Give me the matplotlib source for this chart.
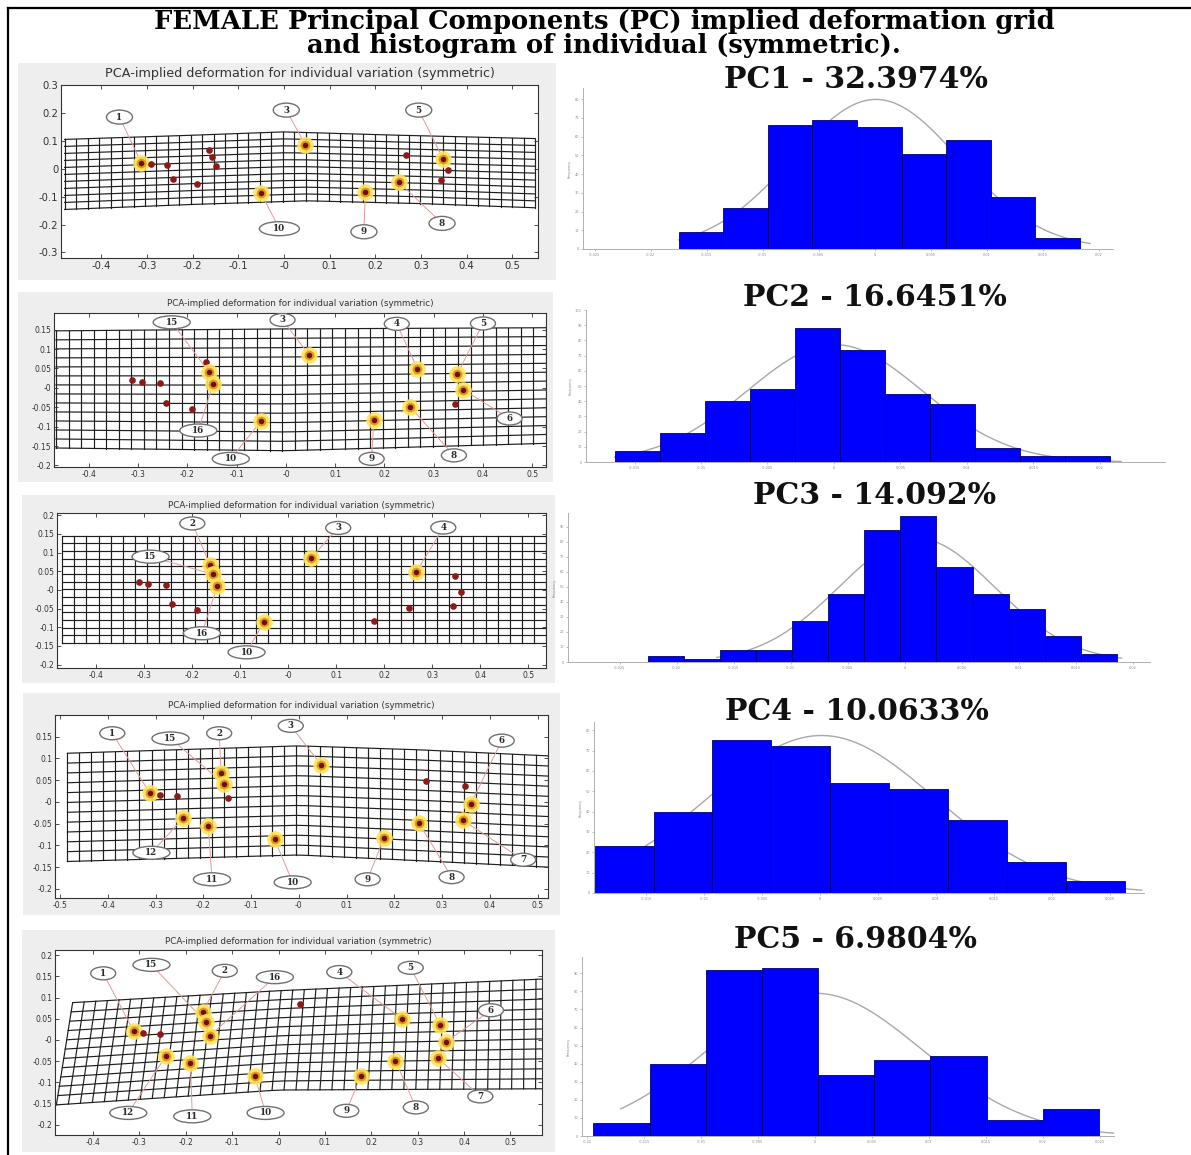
import numpy as np
import matplotlib
matplotlib.use('Agg')
import matplotlib.pyplot as plt
from matplotlib.patches import Rectangle, Ellipse
from matplotlib.lines import Line2D
from matplotlib.transforms import ScaledTranslation

W, H, DPI = 1191, 1155, 100

# ---- landmarks (same 16 points in every grid panel) ----
lm_id = [1, 13, 14, 12, 11, 2, 15, 16, 10, 3, 9, 8, 4, 5, 6, 7]
lm_x = [-0.312, -0.292, -0.255, -0.243, -0.19, -0.163, -0.157, -0.148, -0.051,
        0.047, 0.178, 0.252, 0.267, 0.348, 0.36, 0.343]
lm_y = [0.02, 0.016, 0.013, -0.038, -0.055, 0.067, 0.042, 0.01, -0.086,
        0.085, -0.084, -0.049, 0.049, 0.036, -0.005, -0.042]

# ---- highlighted landmarks and numbered labels per panel ----
pc1_hl = [1, 3, 10, 9, 8, 5]
pc1_lab = [1, 3, 5, 10, 9, 8]
pc1_lab_x = [-0.36, 0.005, 0.295, -0.01, 0.175, 0.346]
pc1_lab_y = [0.185, 0.21, 0.21, -0.215, -0.226, -0.196]

pc2_hl = [15, 16, 3, 10, 9, 8, 4, 5, 6]
pc2_lab = [15, 3, 4, 5, 6, 16, 10, 9, 8]
pc2_lab_x = [-0.232, -0.007, 0.225, 0.40, 0.454, -0.178, -0.112, 0.174, 0.341]
pc2_lab_y = [0.169, 0.175, 0.165, 0.166, -0.079, -0.11, -0.183, -0.183, -0.174]

pc3_hl = [2, 15, 16, 3, 4, 10]
pc3_lab = [2, 3, 4, 15, 16, 10]
pc3_lab_x = [-0.20, 0.104, 0.323, -0.287, -0.18, -0.087]
pc3_lab_y = [0.178, 0.166, 0.167, 0.089, -0.116, -0.167]

pc4_hl = [1, 2, 15, 3, 12, 11, 10, 9, 8, 6, 7]
pc4_lab = [1, 15, 2, 3, 6, 12, 11, 10, 9, 8, 7]
pc4_lab_x = [-0.391, -0.269, -0.167, -0.017, 0.425, -0.309, -0.182, -0.013, 0.144, 0.32, 0.47]
pc4_lab_y = [0.158, 0.146, 0.158, 0.175, 0.141, -0.117, -0.178, -0.185, -0.178, -0.173, -0.133]

pc5_hl = [1, 12, 11, 2, 15, 16, 10, 9, 8, 4, 5, 6, 7]
pc5_lab = [1, 15, 2, 16, 4, 5, 6, 7, 8, 9, 10, 11, 12]
pc5_lab_x = [-0.378, -0.274, -0.116, -0.008, 0.131, 0.285, 0.458, 0.435, 0.296, 0.146, -0.028, -0.186, -0.324]
pc5_lab_y = [0.157, 0.177, 0.163, 0.148, 0.16, 0.17, 0.07, -0.133, -0.159, -0.167, -0.172, -0.18, -0.172]

# ---- deformation grid outlines (top / bottom edge read at a few x) ----
pc1_top_x, pc1_top_y = [-0.48, -0.2, 0.0, 0.25, 0.55], [0.105, 0.12, 0.132, 0.12, 0.108]
pc1_bot_x, pc1_bot_y = [-0.48, -0.2, 0.05, 0.3, 0.55], [-0.146, -0.128, -0.115, -0.125, -0.14]
pc2_top_x, pc2_top_y = [-0.467, 0.0, 0.528], [0.147, 0.152, 0.155]
pc2_bot_x, pc2_bot_y = [-0.467, 0.0, 0.528], [-0.155, -0.162, -0.143]
pc3_top_x, pc3_top_y = [-0.471, 0.0, 0.537], [0.145, 0.145, 0.145]
pc3_bot_x, pc3_bot_y = [-0.471, 0.0, 0.537], [-0.142, -0.142, -0.142]
pc4_top_x, pc4_top_y = [-0.485, 0.0, 0.25, 0.522], [0.112, 0.129, 0.12, 0.106]
pc4_bot_x, pc4_bot_y = [-0.485, 0.0, 0.25, 0.522], [-0.137, -0.122, -0.135, -0.15]
pc5_top_x, pc5_top_y = [-0.444, 0.0, 0.58], [0.088, 0.116, 0.144]
pc5_bot_x, pc5_bot_y = [-0.479, 0.0, 0.58], [-0.153, -0.118, -0.115]
grid_cols = [42, 40, 41, 41, 42]
grid_rows = [11, 14, 15, 12, 12]

# ---- histograms (x in tick steps of 0.005, counts) ----
hist_titles = ['PC1 - 32.3974%', 'PC2 - 16.6451%', 'PC3 - 14.092%', 'PC4 - 10.0633%', 'PC5 - 6.9804%']
pc1_edge0, pc1_binw = -3.5, 0.795
pc1_counts = [9, 22, 66, 69, 65, 51, 58, 28, 6]
pc2_edge0, pc2_binw = -3.30, 0.678
pc2_counts = [7, 19, 40, 48, 88, 74, 45, 38, 9, 4, 4]
pc3_edge0, pc3_binw = -4.51, 0.633
pc3_counts = [4, 2, 8, 8, 27, 45, 88, 97, 63, 45, 35, 17, 5]
pc4_edge0, pc4_binw = -3.89, 1.017
pc4_counts = [23, 40, 75, 72, 54, 51, 36, 15, 6]
pc5_edge0, pc5_binw = -3.89, 0.986
pc5_counts = [7, 40, 92, 93, 34, 42, 44, 9, 15]
curve_lo = [-3.5, -3.3, -3.3, -3.9, -3.41]
curve_hi = [3.84, 4.32, 3.8, 5.55, 5.3]
STEP = 0.005

# ---- layout in reference pixels ----
frames = [(18, 63, 556, 280), (18, 292, 553, 482), (22, 495, 555, 683),
          (23, 693, 560, 915), (22, 930, 555, 1152)]
grid_axes = [(61, 85, 538, 258), (54, 313, 546, 467), (57, 513, 546, 668),
             (55, 715, 548, 898), (55, 950, 542, 1135)]
grid_xlim = [(-0.488, 0.556), (-0.471, 0.528), (-0.482, 0.537), (-0.511, 0.522), (-0.482, 0.568)]
grid_ylim = [(-0.32, 0.30), (-0.204, 0.193), (-0.209, 0.206), (-0.221, 0.200), (-0.224, 0.212)]
grid_title_y = [74, 304, 506, 705, 941]
hist_axes = [(583, 88, 1113, 249), (586, 310, 1165, 462), (568, 513, 1150, 662),
             (594, 722, 1144, 893), (582, 957, 1114, 1136)]
hist_xlim = [(-5.21, 4.25), (-3.73, 4.98), (-5.91, 4.3), (-3.9, 5.59), (-4.09, 5.25)]
hist_ylim = [86, 100, 99, 84, 99]
hist_title_xy = [(856, 80), (875, 297), (875, 495), (857, 712), (856, 940)]


def px_box(x0, y0, x1, y1):
    return [x0 / W, 1 - y1 / H, (x1 - x0) / W, (y1 - y0) / H]


fig = plt.figure(figsize=(W / DPI, H / DPI), dpi=DPI, facecolor='white')

# outer border (left and top)
fig.add_artist(Line2D([8 / W, 8 / W], [0, 1 - 8 / H], color='black', lw=1.6))
fig.add_artist(Line2D([8 / W, 1], [1 - 8 / H, 1 - 8 / H], color='black', lw=1.6))

fig.text(604 / W, 1 - 22 / H, 'FEMALE Principal Components (PC) implied deformation grid',
         ha='center', va='center', family='DejaVu Serif', weight='bold', size=18.5)
fig.text(604 / W, 1 - 45 / H, 'and histogram of individual (symmetric).',
         ha='center', va='center', family='DejaVu Serif', weight='bold', size=18.5)

panels = [
    (pc1_hl, pc1_lab, pc1_lab_x, pc1_lab_y, pc1_top_x, pc1_top_y, pc1_bot_x, pc1_bot_y),
    (pc2_hl, pc2_lab, pc2_lab_x, pc2_lab_y, pc2_top_x, pc2_top_y, pc2_bot_x, pc2_bot_y),
    (pc3_hl, pc3_lab, pc3_lab_x, pc3_lab_y, pc3_top_x, pc3_top_y, pc3_bot_x, pc3_bot_y),
    (pc4_hl, pc4_lab, pc4_lab_x, pc4_lab_y, pc4_top_x, pc4_top_y, pc4_bot_x, pc4_bot_y),
    (pc5_hl, pc5_lab, pc5_lab_x, pc5_lab_y, pc5_top_x, pc5_top_y, pc5_bot_x, pc5_bot_y),
]
hists = [(pc1_edge0, pc1_binw, pc1_counts), (pc2_edge0, pc2_binw, pc2_counts),
         (pc3_edge0, pc3_binw, pc3_counts), (pc4_edge0, pc4_binw, pc4_counts),
         (pc5_edge0, pc5_binw, pc5_counts)]

lm_pos = {k: (x, y) for k, x, y in zip(lm_id, lm_x, lm_y)}

for r in range(5):
    hl, lab, lab_x, lab_y, tx, ty, bx, by = panels[r]

    # light gray figure frame behind the grid plot
    fx0, fy0, fx1, fy1 = frames[r]
    b = px_box(fx0, fy0, fx1, fy1)
    fig.add_artist(Rectangle((b[0], b[1]), b[2], b[3], transform=fig.transFigure,
                             facecolor='#eeeeee', edgecolor='none', zorder=0))

    ax = fig.add_axes(px_box(*grid_axes[r]))
    ax.set_xlim(*grid_xlim[r])
    ax.set_ylim(*grid_ylim[r])
    ax.set_facecolor('white')

    # deformation grid
    u = np.linspace(0, 1, grid_cols[r])
    xt = tx[0] + u * (tx[-1] - tx[0])
    xb = bx[0] + u * (bx[-1] - bx[0])
    yt = np.interp(xt, tx, ty)
    yb = np.interp(xb, bx, by)
    for i in range(len(u)):
        ax.plot([xt[i], xb[i]], [yt[i], yb[i]], color='#1e1e1e', lw=0.85, zorder=1)
    for v in np.linspace(0, 1, grid_rows[r]):
        ax.plot(xt + v * (xb - xt), yt + v * (yb - yt), color='#1e1e1e', lw=0.85, zorder=1)

    # leader lines + ellipse labels
    for k, lx, ly in zip(lab, lab_x, lab_y):
        px, py = lm_pos[k]
        ax.plot([lx, px], [ly, py], color='#e29a9a', lw=0.7, zorder=3)
        big = r == 0
        w_px = (40 if big else 37) if k >= 10 else (26 if big else 25)
        h_px = 14 if big else 13
        trans = fig.dpi_scale_trans + ScaledTranslation(lx, ly, ax.transData)
        ax.add_patch(Ellipse((0, 0), w_px / DPI, h_px / DPI, transform=trans,
                             facecolor='white', edgecolor='#707070', lw=1.0, zorder=5))
        ax.text(lx, ly, str(k), ha='center', va='center', family='DejaVu Serif',
                weight='bold', size=6.3, color='#2a2a2a', zorder=6)

    # landmarks
    for k, x, y in zip(lm_id, lm_x, lm_y):
        if k in hl:
            ax.plot(x, y, 'o', ms=12, color='#ffe45c', alpha=0.9, mec='none', zorder=4)
            ax.plot(x, y, 'o', ms=7, color='#e39a1c', mec='none', zorder=4)
            ax.plot(x, y, 'o', ms=4, color='#6e0f0f', mec='none', zorder=4)
        else:
            ax.plot(x, y, 'o', ms=4.8, color='#8c1a1a', mec='none', zorder=4)

    # MATLAB-like axes
    if r == 0:
        xt_vals = np.round(np.arange(-0.4, 0.51, 0.1), 2)
        yt_vals = np.round(np.arange(-0.3, 0.31, 0.1), 2)
        tsize = 7.2
    else:
        xt_vals = np.round(np.arange(-0.5 if r == 3 else -0.4, 0.51, 0.1), 2)
        ymax = 0.15 if r in (1, 3) else 0.2
        yt_vals = np.round(np.arange(-0.2, ymax + 0.001, 0.05), 2)
        tsize = 5.5
    ax.set_xticks(xt_vals)
    ax.set_xticklabels([f'{v:g}' for v in xt_vals])
    ax.set_yticks(yt_vals)
    ax.set_yticklabels([f'{v:g}' for v in yt_vals])
    ax.tick_params(direction='in', top=True, right=True, length=3, width=0.6,
                   labelsize=tsize, colors='#333333', pad=2)
    for s in ax.spines.values():
        s.set_color('#333333')
        s.set_linewidth(0.8)

    cx = (grid_axes[r][0] + grid_axes[r][2]) / 2
    fig.text(cx / W, 1 - grid_title_y[r] / H,
             'PCA-implied deformation for individual variation (symmetric)',
             ha='center', va='center', size=9.2 if r == 0 else 6.3, color='#333333')

    # ---- histogram with normal fit ----
    e0, bw, counts = hists[r]
    counts = np.array(counts, dtype=float)
    edges = e0 + bw * np.arange(len(counts) + 1)
    centers = (edges[:-1] + edges[1:]) / 2
    n = counts.sum()
    mu = (counts * centers).sum() / n
    sd = np.sqrt((counts * (centers - mu) ** 2).sum() / n)
    peak = n * bw / (sd * np.sqrt(2 * np.pi))

    hx = fig.add_axes(px_box(*hist_axes[r]))
    cxs = np.linspace(curve_lo[r], curve_hi[r], 200)
    hx.plot(cxs * STEP, peak * np.exp(-0.5 * ((cxs - mu) / sd) ** 2),
            color='#a8a8a8', lw=1.0, zorder=1)
    hx.bar(edges[:-1] * STEP, counts, width=bw * STEP, align='edge',
           color='#0000ff', edgecolor='#00007a', lw=0.6, zorder=2)
    hx.set_xlim(hist_xlim[r][0] * STEP, hist_xlim[r][1] * STEP)
    hx.set_ylim(0, hist_ylim[r])
    ticks = np.arange(np.ceil(hist_xlim[r][0]), hist_xlim[r][1] + 0.01, 1.0) * STEP
    hx.set_xticks(ticks)
    hx.set_xticklabels([f'{v:g}' for v in np.round(ticks, 4)])
    yt = np.arange(0, hist_ylim[r] + 0.1, 10)
    hx.set_yticks(yt)
    hx.set_yticklabels([f'{v:g}' for v in yt])
    hx.tick_params(labelsize=2.5, length=1.5, width=0.4, colors='#8a8a8a', pad=1.5)
    hx.set_ylabel('Frequency', size=2.5, color='#8a8a8a', labelpad=2)
    for s in ('top', 'right'):
        hx.spines[s].set_visible(False)
    for s in ('left', 'bottom'):
        hx.spines[s].set_color('#b0b0b0')
        hx.spines[s].set_linewidth(0.7)

    tx_, ty_ = hist_title_xy[r]
    fig.text(tx_ / W, 1 - ty_ / H, hist_titles[r], ha='center', va='center',
             family='DejaVu Serif', weight='bold', size=21.5, color='#111111')

fig.savefig('out.png', dpi=DPI, facecolor='white')
